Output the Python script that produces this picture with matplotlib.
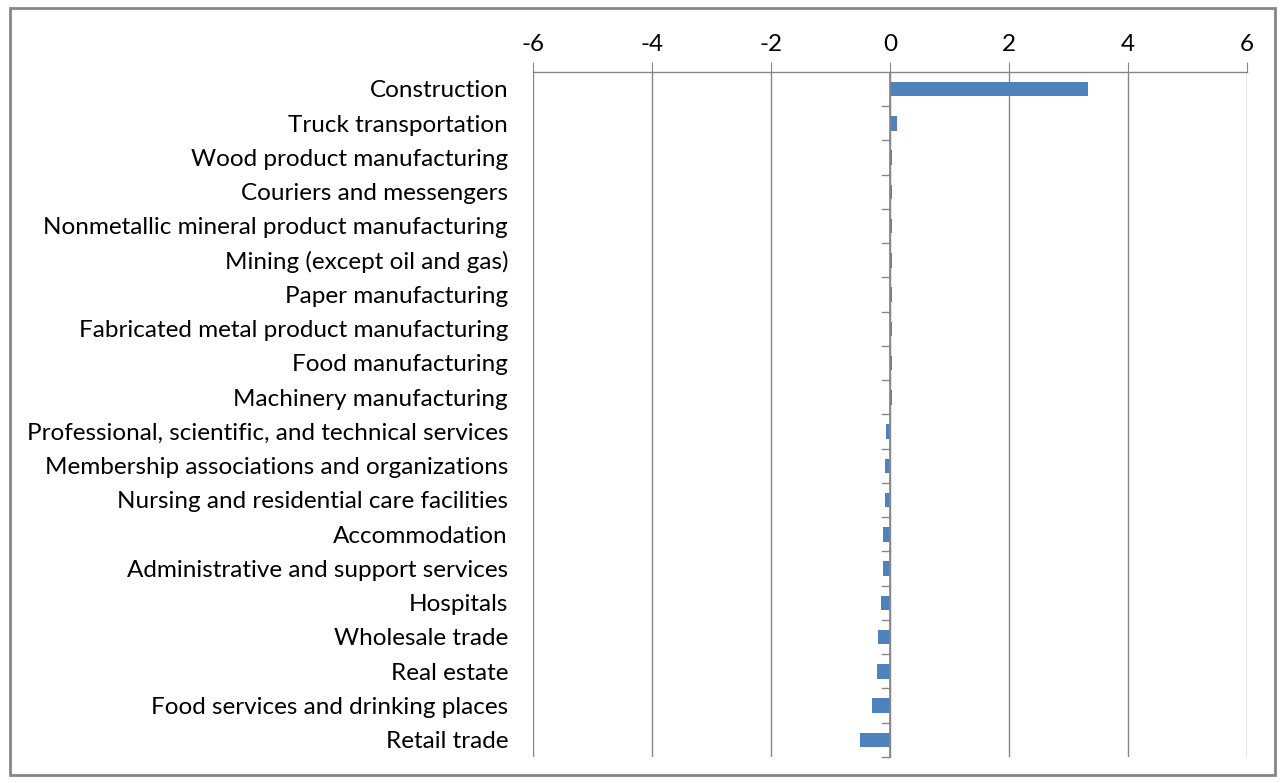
import matplotlib.pyplot as plt
import matplotlib.transforms as mtransforms
import numpy as np

categories = [
    "Construction",
    "Truck transportation",
    "Wood product manufacturing",
    "Couriers and messengers",
    "Nonmetallic mineral product manufacturing",
    "Mining (except oil and gas)",
    "Paper manufacturing",
    "Fabricated metal product manufacturing",
    "Food manufacturing",
    "Machinery manufacturing",
    "Professional, scientific, and technical services",
    "Membership associations and organizations",
    "Nursing and residential care facilities",
    "Accommodation",
    "Administrative and support services",
    "Hospitals",
    "Wholesale trade",
    "Real estate",
    "Food services and drinking places",
    "Retail trade",
]
values = [3.32, 0.12, 0.04, 0.04, 0.04, 0.04, 0.04, 0.04, 0.04, 0.04,
          -0.07, -0.09, -0.09, -0.11, -0.11, -0.15, -0.20, -0.22, -0.30, -0.51]
x_ticks = [-6, -4, -2, 0, 2, 4, 6]

plt.rcParams["font.family"] = ["Lato", "DejaVu Sans"]
fs = 17.5

fig = plt.figure(figsize=(12.83, 7.83), dpi=100)
ax = fig.add_axes([533 / 1283, 1 - 757 / 783, (1247 - 533) / 1283, (757 - 72) / 783])

y = np.arange(len(categories))
ax.barh(y, values, height=0.42, color="#4F81BD", zorder=3)

ax.set_xlim(-6, 6)
ax.set_ylim(len(categories) - 0.5, -0.5)

# x axis on top
ax.xaxis.tick_top()
ax.set_xticks(x_ticks)
ax.set_xticklabels([str(t) for t in x_ticks], fontsize=fs)
ax.tick_params(axis="x", length=7, color="#868686", pad=5)
ax.grid(axis="x", color="#868686", linewidth=1, zorder=0)

# vertical axis at zero, with category separator ticks
for s in ["bottom", "right", "left"]:
    ax.spines[s].set_visible(False)
ax.spines["top"].set_color("#868686")
ax.spines["top"].set_linewidth(1)
ax.axvline(0, color="#868686", linewidth=1.2, zorder=4)
ax.set_yticks([])
sep = np.arange(len(categories) + 1) - 0.5
for s in sep[1:]:
    ax.plot([-0.14, 0], [s, s], color="#868686", linewidth=1, zorder=4, clip_on=False)

trans = mtransforms.blended_transform_factory(ax.transAxes, ax.transData)
for i, name in enumerate(categories):
    ax.text(-0.035, i + 0.05, name, transform=trans, ha="right", va="center", fontsize=fs)

# outer border
fig.patches.append(plt.Rectangle((10 / 1283, 8 / 783), 1265 / 1283, 767 / 783,
                                 transform=fig.transFigure, fill=False,
                                 edgecolor="#868686", linewidth=2))

fig.savefig("out.png", dpi=100)
